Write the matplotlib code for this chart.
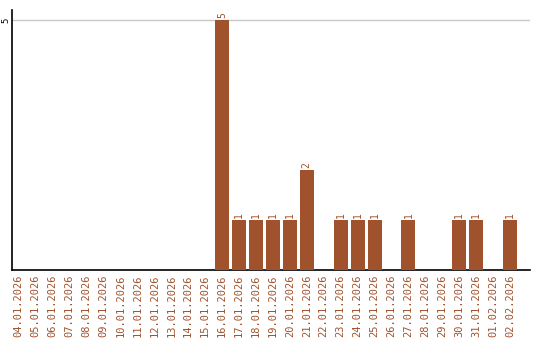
import matplotlib
matplotlib.use("Agg")
import matplotlib.pyplot as plt

# Daily counts
dates = ["04.01.2026", "05.01.2026", "06.01.2026", "07.01.2026", "08.01.2026",
         "09.01.2026", "10.01.2026", "11.01.2026", "12.01.2026", "13.01.2026",
         "14.01.2026", "15.01.2026", "16.01.2026", "17.01.2026", "18.01.2026",
         "19.01.2026", "20.01.2026", "21.01.2026", "22.01.2026", "23.01.2026",
         "24.01.2026", "25.01.2026", "26.01.2026", "27.01.2026", "28.01.2026",
         "29.01.2026", "30.01.2026", "31.01.2026", "01.02.2026", "02.02.2026"]
counts = [0, 0, 0, 0, 0, 0, 0, 0, 0, 0, 0, 0, 5, 1, 1, 1, 1, 2, 0, 1,
          1, 1, 0, 1, 0, 0, 1, 1, 0, 1]

color = "#A0522D"

fig = plt.figure(figsize=(5.4, 3.4), dpi=100)
ax = fig.add_axes([12 / 540, 1 - 270 / 340, 518 / 540, 260 / 340])

x = list(range(len(dates)))
ax.bar(x, counts, width=14 / 17, color=color, zorder=3)

for xi, c in zip(x, counts):
    if c > 0:
        ax.text(xi, c + 0.05, str(c), rotation=90, ha="center", va="bottom",
                fontsize=7, color=color, family="DejaVu Sans Mono")

ax.set_xlim(-0.4, 29 + 20 / 17)
ax.set_ylim(0, 5.2)
ax.set_yticks([5])
ax.set_yticklabels(["5"], rotation=90, va="center", fontsize=6.5,
                   family="DejaVu Sans Mono")
ax.axhline(5, color="#c8c8c8", linewidth=1, zorder=1)

ax.set_xticks(x)
ax.set_xticklabels(dates, rotation=90, fontsize=7.5, color=color,
                   family="DejaVu Sans Mono")
ax.tick_params(axis="both", length=0, pad=3)
ax.tick_params(axis="y", pad=1.5)

for s in ["top", "right"]:
    ax.spines[s].set_visible(False)
ax.spines["left"].set_linewidth(1.2)
ax.spines["bottom"].set_linewidth(1.2)

fig.savefig("out.png", dpi=100)
